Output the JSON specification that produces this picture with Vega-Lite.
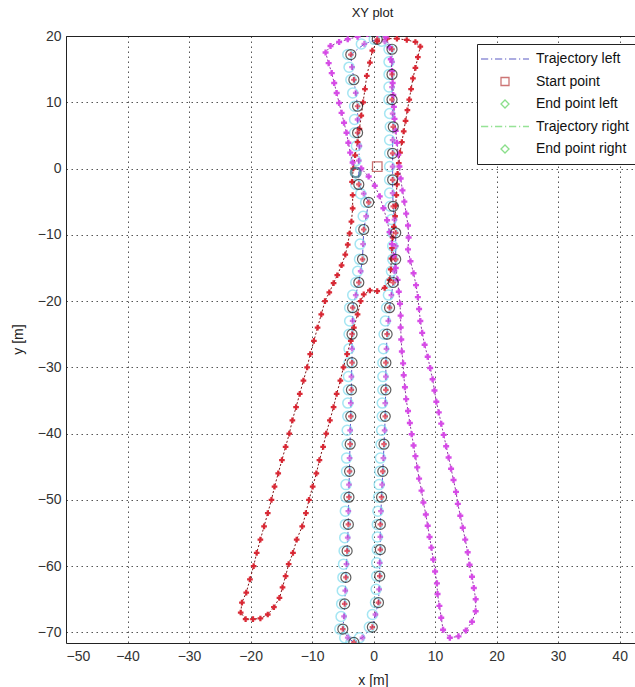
{
  "$schema": "https://vega.github.io/schema/vega-lite/v6.json",
  "width": 569,
  "height": 607,
  "autosize": {"type": "none"},
  "padding": {"left": 66, "top": 36, "right": 0, "bottom": 44},
  "background": "white",
  "title": {"text": "XY plot", "font": "Liberation Sans", "fontSize": 13, "fontWeight": "normal", "color": "#222", "offset": 9, "dx": 22},
  "config": {
    "view": {"stroke": null},
    "axis": {"labelFont": "Liberation Sans", "labelFontSize": 14, "labelColor": "#333", "titleFont": "Liberation Sans", "titleFontSize": 14, "titleFontWeight": "normal", "titleColor": "#222", "domainColor": "#222", "domainWidth": 1, "ticks": false, "gridColor": "#555", "gridDash": [1.5, 3.5], "gridOpacity": 1, "gridWidth": 1}
  },
  "datasets": {
    "central": [
      {"x":0.6,"y":19.5,"c":1},{"x":-1.5,"y":18.8,"c":0},{"x":-3.7,"y":17.2,"c":1},{"x":-3.5,"y":15.3,"c":0},{"x":-3.2,"y":13.4,"c":1},{"x":-2.9,"y":11.4,"c":0},{"x":-2.6,"y":9.4,"c":1},{"x":-2.6,"y":7.4,"c":0},{"x":-2.6,"y":5.4,"c":1},{"x":-2.3,"y":3.4,"c":0},{"x":-2.4,"y":1.2,"c":0},{"x":-2.4,"y":-2.4,"c":1},{"x":-1.6,"y":-3.8,"c":0},{"x":-0.8,"y":-5.1,"c":1},{"x":-1.2,"y":-7.2,"c":0},{"x":-1.6,"y":-9.2,"c":1},{"x":-1.7,"y":-11.4,"c":0},{"x":-1.8,"y":-13.7,"c":1},{"x":-2.1,"y":-15.5,"c":0},{"x":-2.4,"y":-17.2,"c":1},{"x":-2.9,"y":-19.1,"c":0},{"x":-3.4,"y":-21,"c":1},{"x":-3.4,"y":-23,"c":0},{"x":-3.5,"y":-25,"c":1},{"x":-3.5,"y":-27.2,"c":0},{"x":-3.5,"y":-29.3,"c":1},{"x":-3.6,"y":-31.4,"c":0},{"x":-3.6,"y":-33.4,"c":1},{"x":-3.7,"y":-35.4,"c":0},{"x":-3.7,"y":-37.4,"c":1},{"x":-3.8,"y":-39.5,"c":0},{"x":-3.8,"y":-41.6,"c":1},{"x":-3.9,"y":-43.7,"c":0},{"x":-3.9,"y":-45.7,"c":1},{"x":-4,"y":-47.7,"c":0},{"x":-4,"y":-49.6,"c":1},{"x":-4.1,"y":-51.7,"c":0},{"x":-4.1,"y":-53.7,"c":1},{"x":-4.2,"y":-55.7,"c":0},{"x":-4.3,"y":-57.7,"c":1},{"x":-4.4,"y":-59.7,"c":0},{"x":-4.5,"y":-61.7,"c":1},{"x":-4.6,"y":-63.7,"c":0},{"x":-4.7,"y":-65.7,"c":1},{"x":-4.8,"y":-67.6,"c":0},{"x":-5,"y":-69.5,"c":1},{"x":-4.2,"y":-70.8,"c":0},{"x":-3.2,"y":-71.5,"c":1},{"x":-1.8,"y":-70.8,"c":0},{"x":-0.2,"y":-69.2,"c":1},{"x":0.3,"y":-67.3,"c":0},{"x":0.8,"y":-65.5,"c":1},{"x":0.9,"y":-63.5,"c":0},{"x":1,"y":-61.5,"c":1},{"x":1,"y":-59.5,"c":0},{"x":1.1,"y":-57.5,"c":1},{"x":1.1,"y":-55.6,"c":0},{"x":1.1,"y":-53.7,"c":1},{"x":1.2,"y":-51.7,"c":0},{"x":1.3,"y":-49.6,"c":1},{"x":1.4,"y":-47.7,"c":0},{"x":1.5,"y":-45.7,"c":1},{"x":1.6,"y":-43.7,"c":0},{"x":1.7,"y":-41.6,"c":1},{"x":1.8,"y":-39.5,"c":0},{"x":1.9,"y":-37.4,"c":1},{"x":1.9,"y":-35.4,"c":0},{"x":2,"y":-33.4,"c":1},{"x":2,"y":-31.4,"c":0},{"x":2,"y":-29.3,"c":1},{"x":2.1,"y":-27.2,"c":0},{"x":2.2,"y":-25,"c":1},{"x":2.4,"y":-23,"c":0},{"x":2.6,"y":-21,"c":1},{"x":2.9,"y":-19.1,"c":0},{"x":3.2,"y":-17.2,"c":1},{"x":3.4,"y":-15.5,"c":0},{"x":3.6,"y":-13.7,"c":1},{"x":3.6,"y":-11.7,"c":0},{"x":3.6,"y":-9.7,"c":1},{"x":3.4,"y":-7.7,"c":0},{"x":3.2,"y":-5.7,"c":1},{"x":3.1,"y":-3.7,"c":0},{"x":3.1,"y":-1.7,"c":1},{"x":3.1,"y":0.3,"c":0},{"x":3.1,"y":2.3,"c":1},{"x":3.1,"y":4.3,"c":0},{"x":3.2,"y":6.3,"c":1},{"x":3.1,"y":8.3,"c":0},{"x":3,"y":10.4,"c":1},{"x":3,"y":12.3,"c":0},{"x":3,"y":14.2,"c":1},{"x":3,"y":16.1,"c":0},{"x":3,"y":18,"c":1},{"x":1.8,"y":19.2,"c":0}
    ],
    "red": [
      {"x":-3.5,"y":-2},{"x":-3.3,"y":0},{"x":-3,"y":2},{"x":-2.6,"y":4},{"x":-2.3,"y":6},{"x":-2,"y":8},{"x":-1.7,"y":10},{"x":-1.4,"y":12},{"x":-1.1,"y":14},{"x":-0.6,"y":16},{"x":-0.2,"y":17.8},{"x":0.6,"y":19.2},{"x":2.2,"y":19.6},{"x":3.8,"y":19.6},{"x":5.4,"y":19.4},{"x":6.8,"y":19.1},{"x":7.6,"y":18.4},{"x":7.2,"y":16.8},{"x":6.8,"y":15.2},{"x":6.4,"y":13.6},{"x":6.1,"y":12},{"x":5.8,"y":10.4},{"x":5.5,"y":8.8},{"x":5.2,"y":7.2},{"x":4.9,"y":5.6},{"x":4.6,"y":4},{"x":4.3,"y":2.4},{"x":4.1,"y":0.8},{"x":3.9,"y":-0.8},{"x":3.8,"y":-2.4},{"x":3.7,"y":-4},{"x":3.6,"y":-5.6},{"x":3.5,"y":-7.2},{"x":3.3,"y":-8.8},{"x":3.1,"y":-10.4},{"x":3,"y":-12},{"x":2.9,"y":-13.6},{"x":2.8,"y":-15.2},{"x":2.6,"y":-16.8},{"x":1.8,"y":-18},{"x":0.6,"y":-18.5},{"x":-0.6,"y":-18.4},{"x":-1.6,"y":-19},{"x":-2.1,"y":-20},{"x":-2.6,"y":-22},{"x":-3.2,"y":-24},{"x":-3.7,"y":-26},{"x":-4.3,"y":-28},{"x":-4.9,"y":-30},{"x":-5.4,"y":-32},{"x":-6,"y":-34},{"x":-6.5,"y":-36},{"x":-7.1,"y":-38},{"x":-7.7,"y":-40},{"x":-8.2,"y":-42},{"x":-8.8,"y":-44},{"x":-9.3,"y":-46},{"x":-9.9,"y":-48},{"x":-10.5,"y":-50},{"x":-11,"y":-52},{"x":-11.6,"y":-54},{"x":-12.5,"y":-56},{"x":-13.1,"y":-58},{"x":-13.8,"y":-59.7},{"x":-14.3,"y":-61.5},{"x":-14.8,"y":-63.2},{"x":-15.3,"y":-64.8},{"x":-16.2,"y":-66.2},{"x":-17.2,"y":-67.3},{"x":-18.4,"y":-67.9},{"x":-19.6,"y":-68},{"x":-20.8,"y":-68},{"x":-21.6,"y":-67},{"x":-21.4,"y":-65.5},{"x":-20.7,"y":-64},{"x":-20.1,"y":-62},{"x":-19.5,"y":-60},{"x":-19,"y":-58},{"x":-18.4,"y":-56},{"x":-17.8,"y":-54},{"x":-17.2,"y":-52},{"x":-16.6,"y":-50},{"x":-16.1,"y":-48},{"x":-15.5,"y":-46},{"x":-14.9,"y":-44},{"x":-14.3,"y":-42},{"x":-13.7,"y":-40},{"x":-13.2,"y":-38},{"x":-12.6,"y":-36},{"x":-12,"y":-34},{"x":-11.4,"y":-32},{"x":-10.8,"y":-30},{"x":-10.3,"y":-28},{"x":-9.7,"y":-26},{"x":-9.1,"y":-24},{"x":-8.5,"y":-22},{"x":-7.9,"y":-20},{"x":-7.2,"y":-18.7},{"x":-6.5,"y":-17.3},{"x":-5.9,"y":-16.1},{"x":-5.2,"y":-14.6},{"x":-4.6,"y":-13},{"x":-4.2,"y":-11.5},{"x":-3.9,"y":-9.8},{"x":-3.6,"y":-8},{"x":-3.4,"y":-6},{"x":-3.4,"y":-4}
    ],
    "mag": [
      {"x":-3.4,"y":0.9},{"x":-3.8,"y":2.4},{"x":-4.1,"y":3.9},{"x":-4.4,"y":5.4},{"x":-4.8,"y":6.9},{"x":-5.2,"y":8.4},{"x":-5.6,"y":9.9},{"x":-6,"y":11.4},{"x":-6.4,"y":12.9},{"x":-6.8,"y":14.4},{"x":-7.3,"y":15.9},{"x":-7.8,"y":17.5},{"x":-7,"y":18.5},{"x":-5.6,"y":19.1},{"x":-4.2,"y":19.5},{"x":-2.6,"y":19.9},{"x":-1,"y":20.3},{"x":0.6,"y":20.3},{"x":2,"y":19.8},{"x":2.6,"y":18.3},{"x":2.8,"y":16.5},{"x":3,"y":14.7},{"x":3.1,"y":12.9},{"x":3.2,"y":11.1},{"x":3.3,"y":9.3},{"x":3.4,"y":7.5},{"x":3.6,"y":5.7},{"x":3.8,"y":3.9},{"x":4,"y":2.1},{"x":4.2,"y":0.3},{"x":4.4,"y":-1.5},{"x":4.7,"y":-3.3},{"x":5,"y":-5},{"x":5.3,"y":-6.8},{"x":5.6,"y":-8.6},{"x":5.7,"y":-10.4},{"x":5.6,"y":-12.2},{"x":6,"y":-14},{"x":6.5,"y":-15.8},{"x":6.9,"y":-17.6},{"x":7.2,"y":-19.4},{"x":7.4,"y":-21.2},{"x":7.6,"y":-23},{"x":7.9,"y":-24.8},{"x":8.3,"y":-26.6},{"x":8.8,"y":-28.4},{"x":9.2,"y":-30.1},{"x":9.6,"y":-31.8},{"x":9.9,"y":-33.5},{"x":10.2,"y":-35.2},{"x":10.6,"y":-36.8},{"x":11,"y":-38.5},{"x":11.4,"y":-40.2},{"x":11.8,"y":-41.9},{"x":12.2,"y":-43.6},{"x":12.6,"y":-45.3},{"x":13,"y":-47},{"x":13.4,"y":-48.8},{"x":13.7,"y":-50.6},{"x":14.1,"y":-52.4},{"x":14.5,"y":-54.2},{"x":14.9,"y":-56},{"x":15.3,"y":-57.9},{"x":15.6,"y":-59.8},{"x":16,"y":-61.6},{"x":16.3,"y":-63.3},{"x":16.6,"y":-65},{"x":16.6,"y":-66.8},{"x":16,"y":-68.4},{"x":15,"y":-69.7},{"x":13.8,"y":-70.6},{"x":12.4,"y":-70.8},{"x":11.3,"y":-69.6},{"x":11,"y":-67.8},{"x":10.7,"y":-66},{"x":10.4,"y":-64.2},{"x":10.3,"y":-62.6},{"x":10,"y":-60.8},{"x":9.7,"y":-59},{"x":9.4,"y":-57.2},{"x":9.1,"y":-55.6},{"x":8.8,"y":-53.9},{"x":8.5,"y":-52.2},{"x":8.1,"y":-50.4},{"x":7.8,"y":-48.6},{"x":7.4,"y":-46.8},{"x":7.1,"y":-45.1},{"x":6.8,"y":-43.4},{"x":6.5,"y":-41.8},{"x":6.2,"y":-40.1},{"x":5.9,"y":-38.4},{"x":5.6,"y":-36.6},{"x":5.3,"y":-34.8},{"x":5.1,"y":-33},{"x":4.9,"y":-31.2},{"x":4.8,"y":-29.4},{"x":4.6,"y":-27.6},{"x":4.5,"y":-25.8},{"x":4.4,"y":-24},{"x":4.4,"y":-22.2},{"x":4.3,"y":-20.4},{"x":4.1,"y":-18.6},{"x":3.9,"y":-16.8},{"x":3.6,"y":-15},{"x":3.3,"y":-13.2},{"x":3,"y":-11.4},{"x":2.6,"y":-9.6},{"x":2.2,"y":-7.8},{"x":1.6,"y":-6},{"x":1,"y":-4.2},{"x":0.2,"y":-2.6},{"x":-0.8,"y":-1.2},{"x":-2,"y":0}
    ],
    "start": [{"series": "Start point", "x": 0.6, "y": 0.3}],
    "endmark": [{"x": -2.9, "y": -0.6}]
  },
  "layer": [
    {
      "data": {"name": "central"},
      "transform": [{"window": [{"op": "row_number", "as": "i"}]}],
      "mark": {"type": "line", "color": "#5a5ad0", "strokeWidth": 1, "strokeDash": [6, 3, 1.5, 3], "clip": true},
      "encoding": {
        "x": {"field": "x", "type": "quantitative", "scale": {"domain": [-50, 42.5], "nice": false, "zero": false},
              "axis": {"values": [-50, -40, -30, -20, -10, 0, 10, 20, 30, 40], "grid": true, "title": "x [m]", "labelPadding": 6, "titleX": 307, "titleY": 37, "titleBaseline": "middle"}},
        "y": {"field": "y", "type": "quantitative", "scale": {"domain": [-71.6, 20], "nice": false, "zero": false},
              "axis": {"values": [-70, -60, -50, -40, -30, -20, -10, 0, 10, 20], "grid": true, "title": "y [m]", "labelPadding": 5, "titleX": -48, "titleY": 303, "titleBaseline": "middle", "titleAngle": 270}},
        "order": {"field": "i", "type": "quantitative"}
      }
    },
    {
      "data": {"name": "central"},
      "mark": {"type": "point", "shape": "circle", "filled": false, "color": "#7fdcef", "size": 100, "strokeWidth": 1.5, "opacity": 0.7, "xOffset": -3, "clip": true},
      "encoding": {
        "x": {"field": "x", "type": "quantitative", "axis": {"orient": "top", "labels": false, "grid": false, "ticks": false, "title": null, "domainColor": "#222"}},
        "y": {"field": "y", "type": "quantitative"}
      }
    },
    {
      "data": {"name": "red"},
      "transform": [{"window": [{"op": "row_number", "as": "i"}]}],
      "mark": {"type": "line", "color": "#7a1414", "strokeWidth": 1, "strokeDash": [2, 2], "clip": true},
      "encoding": {
        "x": {"field": "x", "type": "quantitative", "axis": null},
        "y": {"field": "y", "type": "quantitative"},
        "order": {"field": "i", "type": "quantitative"}
      }
    },
    {
      "data": {"name": "red"},
      "mark": {"type": "point", "shape": "cross", "filled": true, "color": "#d8202c", "size": 32, "opacity": 0.95, "clip": true},
      "encoding": {
        "x": {"field": "x", "type": "quantitative", "axis": null},
        "y": {"field": "y", "type": "quantitative"}
      }
    },
    {
      "data": {"name": "mag"},
      "transform": [{"window": [{"op": "row_number", "as": "i"}]}],
      "mark": {"type": "line", "color": "#8a3aa0", "strokeWidth": 1, "strokeDash": [2, 2], "clip": true},
      "encoding": {
        "x": {"field": "x", "type": "quantitative", "axis": null},
        "y": {"field": "y", "type": "quantitative"},
        "order": {"field": "i", "type": "quantitative"}
      }
    },
    {
      "data": {"name": "mag"},
      "mark": {"type": "point", "shape": "cross", "filled": true, "color": "#d544e6", "size": 36, "opacity": 0.95, "clip": true},
      "encoding": {
        "x": {"field": "x", "type": "quantitative", "axis": null},
        "y": {"field": "y", "type": "quantitative"}
      }
    },
    {
      "data": {"name": "central"},
      "transform": [{"filter": "datum.c == 0"}],
      "mark": {"type": "point", "shape": "cross", "filled": true, "color": "#c33fd8", "size": 32, "clip": true},
      "encoding": {
        "x": {"field": "x", "type": "quantitative", "axis": null},
        "y": {"field": "y", "type": "quantitative"}
      }
    },
    {
      "data": {"name": "central"},
      "transform": [{"filter": "datum.c == 1"}],
      "mark": {"type": "point", "shape": "circle", "filled": false, "color": "#1a1a1a", "size": 100, "strokeWidth": 1.2, "clip": true},
      "encoding": {
        "x": {"field": "x", "type": "quantitative", "axis": null},
        "y": {"field": "y", "type": "quantitative"}
      }
    },
    {
      "data": {"name": "central"},
      "transform": [{"filter": "datum.c == 1"}],
      "mark": {"type": "point", "shape": "cross", "filled": true, "color": "#dd2030", "size": 30, "clip": true},
      "encoding": {
        "x": {"field": "x", "type": "quantitative", "axis": null},
        "y": {"field": "y", "type": "quantitative"}
      }
    },
    {
      "data": {"name": "endmark"},
      "mark": {"type": "point", "shape": "circle", "filled": false, "color": "#2a6f80", "size": 90, "strokeWidth": 2.5, "clip": true},
      "encoding": {
        "x": {"field": "x", "type": "quantitative", "axis": null},
        "y": {"field": "y", "type": "quantitative"}
      }
    },
    {
      "data": {"name": "start"},
      "mark": {"type": "point", "filled": false, "size": 90, "strokeWidth": 1.3, "clip": true},
      "encoding": {
        "x": {"field": "x", "type": "quantitative", "axis": null},
        "y": {"field": "y", "type": "quantitative"},
        "color": {"field": "series", "type": "nominal",
          "scale": {"domain": ["Trajectory left", "Start point", "End point left", "Trajectory right", "End point right"], "range": ["#6464c8", "#b83c3c", "#5ad25a", "#6ad86a", "#5ad25a"]},
          "legend": {"title": null, "orient": "none", "legendX": 411, "legendY": 8, "strokeColor": "#222", "fillColor": "white", "padding": 8, "labelFont": "Liberation Sans", "labelFontSize": 14, "labelColor": "#111", "symbolSize": 64, "symbolStrokeWidth": 1.3, "rowPadding": 8.5, "symbolOffset": 13, "labelOffset": 24}},
        "shape": {"field": "series", "type": "nominal",
          "scale": {"domain": ["Trajectory left", "Start point", "End point left", "Trajectory right", "End point right"], "range": ["M-6,0H-4.2M-3.5,0H-3.2M-2.5,0H-0.7M0,0H0.3M1,0H2.8M3.5,0H3.8M4.5,0H6", "square", "diamond", "M-6,0H-4.2M-3.5,0H-3.2M-2.5,0H-0.7M0,0H0.3M1,0H2.8M3.5,0H3.8M4.5,0H6", "diamond"]},
          "legend": {"title": null}}
      }
    }
  ],
  "resolve": {"axis": {"x": "independent"}}
}
